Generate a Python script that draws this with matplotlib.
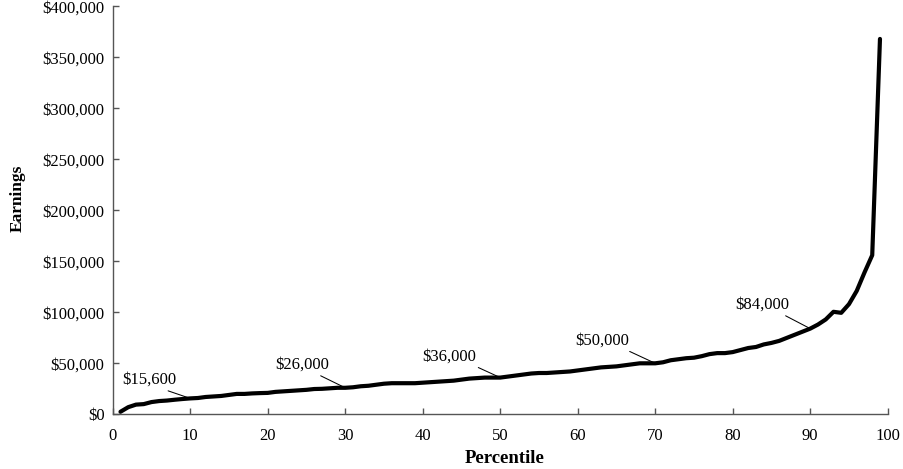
import numpy as np
import matplotlib
matplotlib.use("Agg")
import matplotlib.pyplot as plt
from matplotlib.ticker import FuncFormatter

plt.rcParams["font.family"] = ["Liberation Serif", "DejaVu Serif"]

# earnings by percentile, in thousands of dollars
percentiles = np.arange(1, 100)
earnings_k = [
    2.5, 7, 9.5, 10, 12, 13, 13.5, 14.3, 15, 15.6,
    16, 17, 17.5, 18, 19, 20, 20, 20.5, 20.8, 21,
    22, 22.5, 23, 23.5, 24, 24.8, 25, 25.5, 26, 26,
    26.5, 27.5, 28, 29, 30, 30.5, 30.5, 30.5, 30.5, 31,
    31.5, 32, 32.5, 33, 34, 35, 35.5, 36, 36, 36,
    37, 38, 39, 40, 40.5, 40.5, 41, 41.5, 42, 43,
    44, 45, 46, 46.5, 47, 48, 49, 50, 50, 50,
    51, 53, 54, 55, 55.5, 57, 59, 60, 60, 61,
    63, 65, 66, 68.5, 70, 72, 75, 78, 81, 84,
    88, 93, 100.5, 99.5, 108, 121, 139, 156, 368,
]
earnings = np.array(earnings_k) * 1000

# labelled points
label_pcts = [10, 30, 50, 70, 90]
label_texts = ["$15,600", "$26,000", "$36,000", "$50,000", "$84,000"]

# where each label sits relative to its point (points), and where the leader leaves the text
label_offsets = [(-29.7, 13.2), (-30.7, 16.4), (-36.9, 15.0), (-38.3, 16.3), (-34.3, 17.0)]
leader_relx = [0.66, 0.7, 0.9, 0.87, 0.8]

fig = plt.figure(figsize=(9.04, 4.69), dpi=100)
ax = fig.add_axes([0.1247, 0.1166, 0.8573, 0.87])

ax.plot(percentiles, earnings, color="black", lw=3, solid_capstyle="round",
        solid_joinstyle="round", zorder=3)

for p, txt, off, rx in zip(label_pcts, label_texts, label_offsets, leader_relx):
    ax.annotate(txt, xy=(p, earnings[p - 1]), xytext=off, textcoords="offset points",
                ha="center", va="center", fontsize=12,
                arrowprops=dict(arrowstyle="-", color="black", lw=0.75,
                                relpos=(rx, 0.05), shrinkA=0, shrinkB=0))

ax.set_xlim(0, 100)
ax.set_ylim(0, 400000)
ax.set_xticks(np.arange(0, 101, 10))
ax.set_yticks(np.arange(0, 400001, 50000))
ax.yaxis.set_major_formatter(FuncFormatter(lambda v, pos: f"${v:,.0f}"))

for side in ["top", "right"]:
    ax.spines[side].set_visible(False)
for side in ["left", "bottom"]:
    ax.spines[side].set_color("#555555")
    ax.spines[side].set_linewidth(1.0)

ax.tick_params(axis="both", direction="in", length=4, width=1, color="#555555",
               labelsize=12)
ax.tick_params(axis="x", pad=10)
ax.tick_params(axis="y", pad=6)

ax.set_xlabel("Percentile", fontsize=13.5, fontweight="bold")
ax.set_ylabel("Earnings", fontsize=12.5, fontweight="bold")
ax.xaxis.set_label_coords(0.506, -0.088)
ax.yaxis.set_label_coords(-0.112, 0.53)

fig.savefig("out.png", dpi=100)
